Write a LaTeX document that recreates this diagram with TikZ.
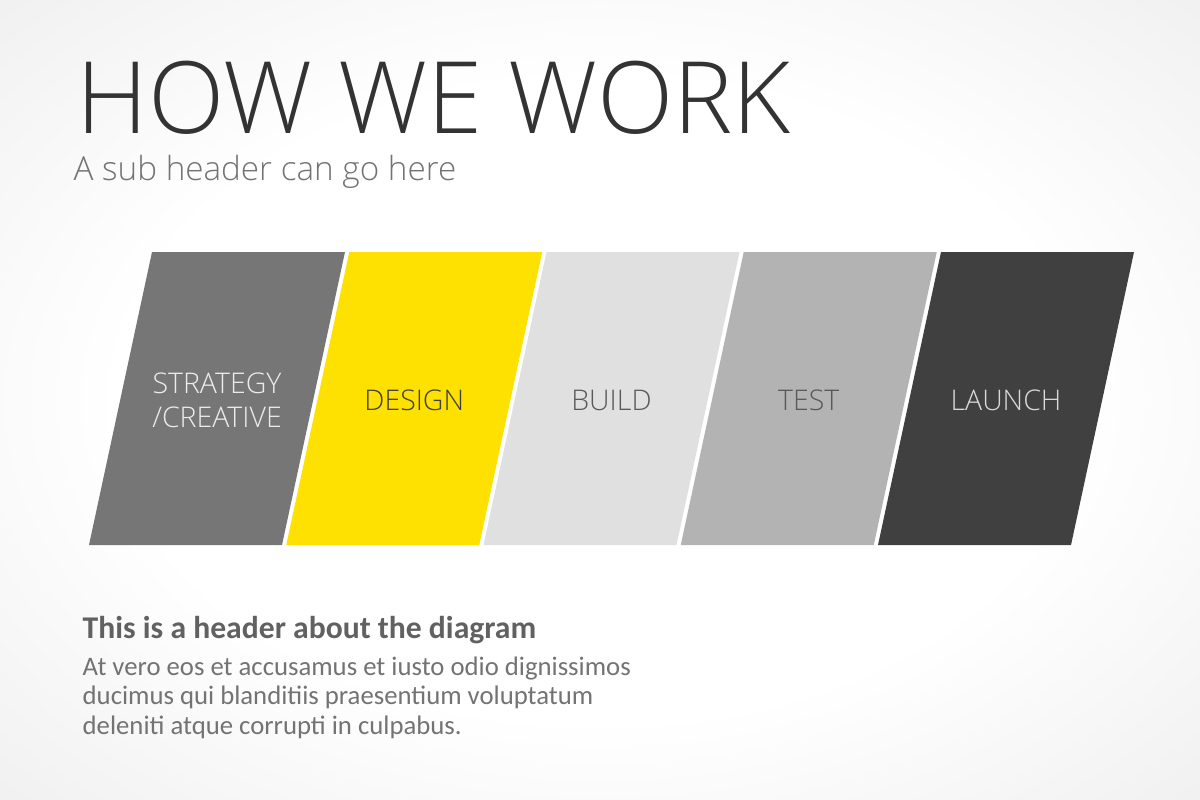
\documentclass[tikz,border=0pt]{standalone}
\usepackage{fontspec}
\setmainfont{Carlito}
\newfontfamily\osl{Open Sans Light}
\usetikzlibrary{positioning}
\definecolor{stratgray}{HTML}{767676}
\definecolor{designyel}{HTML}{FFE100}
\definecolor{buildgray}{HTML}{E0E0E0}
\definecolor{testgray}{HTML}{B3B3B3}
\definecolor{launchgray}{HTML}{404040}
\pgfdeclareradialshading{bgshade}{\pgfpoint{0bp}{0bp}}{color(0bp)=(white); color(20bp)=(white); color(50bp)=(black!11); color(71bp)=(black!16)}

\begin{document}
\begin{tikzpicture}[x=0.01cm,y=-0.01cm,
   stage/.style={text=#1,font=\osl\fontsize{8.1}{9.6}\selectfont,align=center,inner sep=0pt},
   headline/.style={anchor=base west,inner sep=0pt,text=black!80,font=\osl\fontsize{28.4}{30}\selectfont},
   subline/.style={anchor=base west,inner sep=0pt,text=black!55,font=\osl\fontsize{9.45}{11}\selectfont},
   blurbhead/.style={anchor=base west,inner sep=0pt,text=black!62,font=\bfseries\fontsize{9}{10}\selectfont},
   blurb/.style={anchor=north west,inner sep=0pt,text=black!55,align=left,font=\fontsize{7.6}{8.4}\selectfont}]
   \useasboundingbox (0,0) rectangle (1200,800);
   \shade[shading=bgshade] (0,0) rectangle (1200,800);
   \node[headline] (title) at (76,133) {HOW WE WORK};
   \node[subline] (subtitle) at (73,180) {A sub header can go here};
   % the five stages
   \foreach \i/\boxc/\txtc/\lbl in {0/stratgray/white!92!black/{STRATEGY\\/CREATIVE},
      1/designyel/black!75/DESIGN, 2/buildgray/black!65/BUILD,
      3/testgray/black!65/TEST, 4/launchgray/white!85!black/LAUNCH} {
      \fill[\boxc] (89+197.25*\i,545) -- ++(193,0) -- ++(63,-293) -- ++(-193,0) -- cycle;
      \node[stage=\txtc] (stage\i) at (217+197.25*\i,400) {\lbl};
   }
   \node[blurbhead] (blurbtitle) at (82,638) {This is a header about the diagram};
   \node[blurb] (blurbtext) at (82,656) {At vero eos et accusamus et iusto odio dignissimos\\
      ducimus qui blanditiis praesentium voluptatum\\deleniti atque corrupti in culpabus.};
\end{tikzpicture}
\end{document}
